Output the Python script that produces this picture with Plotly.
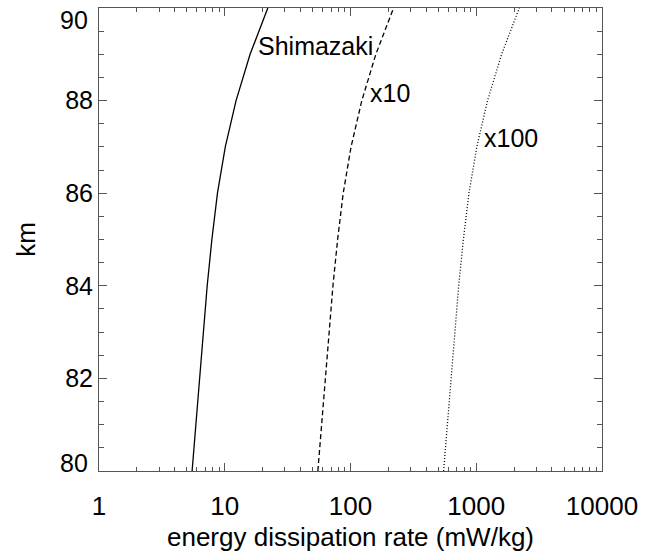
import math
import plotly.graph_objects as go

# Data
altitude_km = [80, 81, 82, 83, 84, 85, 86, 87, 88, 89, 90]
shimazaki = [5.5, 5.9, 6.3, 6.75, 7.25, 7.9, 8.75, 10.1, 12.3, 15.9, 22.0]
scale_factors = [1, 10, 100]
series_labels = ["Shimazaki", "x10", "x100"]
dash_styles = ["solid", "5px,3px", "1px,2px"]

x_tick_vals = [1, 10, 100, 1000, 10000]
x_tick_text = ["1", "10", "100", "1000", "10000"]
y_tick_vals = [80, 82, 84, 86, 88, 90]
y_tick_text = ["80", "82", "84", "86", "88", "90"]

FONT = "Liberation Sans, Arial, Helvetica, sans-serif"

fig = go.Figure()
for f, name, dash in zip(scale_factors, series_labels, dash_styles):
    fig.add_trace(go.Scatter(
        x=[v * f for v in shimazaki], y=altitude_km, mode="lines",
        line=dict(color="black", width=1.3, dash=dash), name=name,
        showlegend=False))

# label annotations
label_pos = [(18.2, 89.18), (140, 88.16), (1140, 87.19)]
for (lx, ly), name in zip(label_pos, series_labels):
    fig.add_annotation(x=math.log10(lx), y=ly, text=name, showarrow=False,
                       xanchor="left", yanchor="middle", borderpad=0,
                       font=dict(size=25, color="black", family=FONT))

# end tick labels of the y axis are nudged inward in the reference
shown_text = [t if 0 < i < len(y_tick_text) - 1 else "" for i, t in enumerate(y_tick_text)]
for idx, shift in ((0, 8), (len(y_tick_vals) - 1, -12)):
    fig.add_annotation(x=-0.02, xref="paper", y=y_tick_vals[idx], yref="y",
                       text=y_tick_text[idx], showarrow=False, xanchor="right",
                       yanchor="middle", yshift=shift, borderpad=0,
                       font=dict(size=25, color="black", family=FONT))

minor_x = [m * 10 ** d for d in range(4) for m in range(2, 10)]
minor_y = [v / 2 for v in range(160, 181) if v % 4 != 0]

fig.update_layout(
    width=652, height=553,
    margin=dict(l=99, r=50, t=8, b=82, autoexpand=False),
    paper_bgcolor="white", plot_bgcolor="white",
    font=dict(family=FONT, size=26, color="black"),
    xaxis=dict(type="log", range=[0, 4], tickmode="array",
               tickvals=x_tick_vals, ticktext=x_tick_text,
               ticks="inside", ticklen=8, tickwidth=1, tickcolor="#555",
               showline=True, linecolor="#555", linewidth=1, mirror="ticks",
               showgrid=False, zeroline=False, ticklabelstandoff=12,
               ticklabeloverflow="allow", automargin=False,
               minor=dict(tickmode="array", tickvals=minor_x, ticks="inside",
                          ticklen=4, tickwidth=1, tickcolor="#555", showgrid=False),
               title=dict(text="energy dissipation rate (mW/kg)", standoff=7,
                          font=dict(size=26))),
    yaxis=dict(range=[80, 90], tickmode="array", tickvals=y_tick_vals,
               ticktext=shown_text, tickfont=dict(size=25),
               ticks="inside", ticklen=8, tickwidth=1, tickcolor="#555",
               showline=True, linecolor="#555", linewidth=1, mirror="ticks",
               showgrid=False, zeroline=False, ticklabelstandoff=0,
               ticklabeloverflow="allow", automargin=False,
               minor=dict(tickmode="array", tickvals=minor_y, ticks="inside",
                          ticklen=5, tickwidth=1, tickcolor="#555", showgrid=False),
               title=dict(text="km", standoff=22, font=dict(size=26))),
)

fig.write_html("out.html")
